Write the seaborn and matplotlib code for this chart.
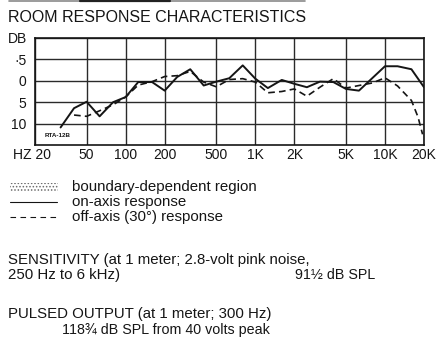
import matplotlib
matplotlib.use("Agg")
import matplotlib.pyplot as plt
import seaborn as sns
import pandas as pd
from matplotlib.patches import Rectangle
from matplotlib.lines import Line2D
from matplotlib.ticker import NullLocator
from matplotlib.transforms import ScaledTranslation

# On-axis response (dB) at third-octave frequencies (Hz)
on_freq = [31.5, 40, 50, 63, 80, 100, 125, 160, 200, 250, 315, 400, 500, 630,
           800, 1000, 1250, 1600, 2000, 2500, 3150, 4000, 5000, 6300,
           10000, 12500, 16000, 20000]
on_db = [-10.9, -6.4, -4.9, -8.3, -5.0, -3.8, -0.3, -0.3, -2.3, 0.9, 2.7, -1.1,
         -0.2, 0.6, 3.6, 0.5, -1.7, 0.2, -0.7, -1.5, -0.2, -0.3, -1.9, -2.3,
         3.4, 3.4, 2.7, -1.5]

# Off-axis (30 degree) response
off_freq = [40, 50, 63, 80, 100, 125, 160, 200, 250, 315, 400, 500, 630, 800,
            1000, 1250, 1600, 2000, 2500, 3150, 4000, 5000, 6300, 8000,
            10000, 12500, 16000, 18000, 19500]
off_db = [-8.0, -8.3, -7.0, -5.6, -3.8, -1.0, -0.2, 1.0, 1.2, 2.2, -0.3, -1.4,
          0.3, 0.5, -0.3, -2.8, -2.5, -1.9, -3.6, -1.5, 0.5, -1.7, -1.1, -0.5,
          0.7, -1.2, -4.6, -8.5, -12.5]

x_ticks = [20, 50, 100, 200, 500, 1000, 2000, 5000, 10000, 20000]
x_labels = ["HZ 20", "50", "100", "200", "500", "1K", "2K", "5K", "10K", "20K"]
y_ticks = [10, 5, 0, -5, -10]
y_labels = ["DB", "·5", "0", "5", "10"]

title = "ROOM RESPONSE CHARACTERISTICS"
legend_labels = ["boundary-dependent region", "on-axis response",
                 "off-axis (30°) response"]
sens_lines = ["SENSITIVITY (at 1 meter; 2.8-volt pink noise,",
              "250 Hz to 6 kHz)"]
sens_value = "91½ dB SPL"
pulse_lines = ["PULSED OUTPUT (at 1 meter; 300 Hz)",
               "118¾ dB SPL from 40 volts peak"]

sns.set_theme(style="white")
plt.rcParams["font.family"] = ["Liberation Sans", "DejaVu Sans"]
plt.rcParams["hatch.linewidth"] = 0.7
plt.rcParams["hatch.color"] = "#6a6a6a"

INK = "#151515"
BODY = 10.8
SMALL = 10.3
W, H = 439, 339
fig = plt.figure(figsize=(W / 100, H / 100), dpi=100)
fig.patch.set_facecolor("white")


def fx(px):
    return px / W


def fy(py):
    return 1 - py / H


ax = fig.add_axes([fx(35), fy(145), fx(389), 107 / H])

on_df = pd.DataFrame({"freq": on_freq, "db": on_db})
off_df = pd.DataFrame({"freq": off_freq, "db": off_db})
sns.lineplot(data=on_df, x="freq", y="db", ax=ax, color=INK, lw=1.4,
             estimator=None)
sns.lineplot(data=off_df, x="freq", y="db", ax=ax, color=INK, lw=1.2,
             estimator=None, linestyle=(0, (4, 2.5)))

ax.set_xscale("log")
ax.set_xlim(20, 20000)
ax.set_ylim(-15, 10)
ax.set_xticks(x_ticks)
ax.set_xticklabels(x_labels)
ax.xaxis.set_minor_locator(NullLocator())
ax.set_yticks(y_ticks)
ax.set_yticklabels(y_labels)
ax.set_xlabel("")
ax.set_ylabel("")
ax.grid(True, color="#2a2a2a", lw=1.0)
ax.tick_params(axis="x", length=0, pad=2.5, labelsize=10, colors=INK)
ax.tick_params(axis="y", length=0, pad=6, labelsize=10, colors=INK)
for s in ax.spines.values():
    s.set_color(INK)
    s.set_linewidth(1.2)
first = ax.get_xticklabels()[0]
first.set_transform(first.get_transform() +
                    ScaledTranslation(-3 / 100, 0, fig.dpi_scale_trans))

ax.text(0.026, 0.085, "RTA-12B", transform=ax.transAxes, fontsize=4.5,
        fontweight="bold", color=INK, va="center", ha="left")

# Rule across the top of the panel
fig.add_artist(Line2D([fx(9), fx(305)], [fy(0.8), fy(0.8)], color="#8a8a8a",
                      lw=1.2))
fig.add_artist(Line2D([fx(80), fx(170)], [fy(0.8), fy(0.8)], color="#222222",
                      lw=1.6))

fig.text(fx(8), fy(18), title, fontsize=11.5, color=INK, ha="left",
         va="center")

# Key
rows = [187, 202, 217]
fig.add_artist(Rectangle((fx(10), fy(rows[0] + 4)), fx(48), 8 / H,
                         facecolor="white", edgecolor="#6a6a6a", lw=0,
                         hatch="....."))
fig.add_artist(Line2D([fx(10), fx(57)], [fy(rows[1]), fy(rows[1])],
                      color=INK, lw=0.8))
fig.add_artist(Line2D([fx(10), fx(57)], [fy(rows[2]), fy(rows[2])],
                      color=INK, lw=0.8, linestyle=(0, (5, 4))))
for r, lab in zip(rows, legend_labels):
    fig.text(fx(72), fy(r), lab, fontsize=BODY, color=INK, ha="left",
             va="center")

fig.text(fx(8), fy(260), sens_lines[0], fontsize=BODY, color=INK, ha="left",
         va="center")
fig.text(fx(8), fy(275), sens_lines[1], fontsize=BODY, color=INK, ha="left",
         va="center")
fig.text(fx(295), fy(275), sens_value, fontsize=SMALL, color=INK, ha="left",
         va="center")
fig.text(fx(8), fy(314), pulse_lines[0], fontsize=BODY, color=INK, ha="left",
         va="center")
fig.text(fx(62), fy(330), pulse_lines[1], fontsize=SMALL, color=INK,
         ha="left", va="center")

fig.savefig("out.png", dpi=100, facecolor="white")
